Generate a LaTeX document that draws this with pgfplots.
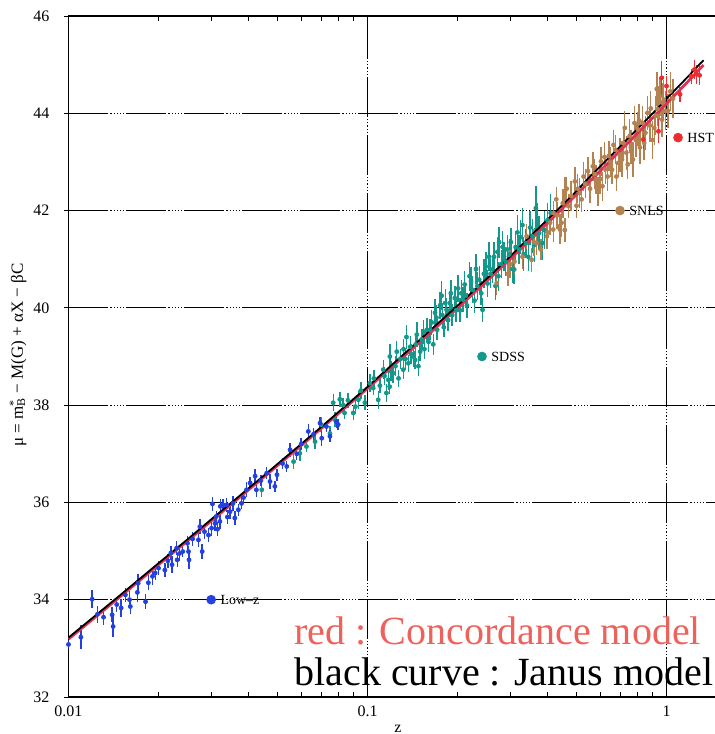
\documentclass[border=0pt]{standalone}
\usepackage{fontspec}
\setmainfont{Liberation Serif}
\usepackage{pgfplots}
\pgfplotsset{compat=1.18}
\definecolor{lowz}{RGB}{35,65,225}
\definecolor{sdss}{RGB}{20,152,140}
\definecolor{snls}{RGB}{180,130,80}
\definecolor{hst}{RGB}{235,45,45}
\definecolor{curvered}{RGB}{225,50,85}
\definecolor{textred}{RGB}{238,98,92}
\begin{document}
\begin{tikzpicture}[x=1pt,y=1pt]
\begin{axis}[
  at={(0,0)}, anchor=south west,
  scale only axis, width=326pt, height=340.5pt,
  xmode=log, xmin=0.01, xmax=1.5154, ymin=32, ymax=46,
  axis x line=box, axis y line=left,
  axis line style={-, black, line width=0.6pt},
  xtick={0.01,0.1,1}, xticklabels={0.01,0.1,1},
  ytick={32,34,36,38,40,42,44,46},
  grid=major,
  major grid style={black, line width=0.5pt, dash pattern=on 20pt off 1pt on 0.6pt off 1pt on 0.6pt off 1pt on 0.6pt off 1pt on 0.6pt off 1pt on 0.6pt off 1pt},
  tick style={black, line width=0.4pt},
  major tick length=4pt, minor tick length=2.5pt,
  ticklabel style={font=\fontsize{8}{9}\selectfont},
  yticklabel style={xshift=-4pt},
  xticklabel style={yshift=-1pt},
  /pgf/number format/assume math mode=true,
]
% SDSS
\addplot[only marks, mark=*, mark size=1pt, color=sdss,
  error bars/.cd, y dir=both, y explicit, error mark=none,
  error bar style={line width=0.7pt, color=sdss}]
  table[x index=0, y index=1, y error index=2] {
0.0443 36.26 0.15
0.0566 36.84 0.15
0.0594 37.01 0.15
0.0625 37.15 0.12
0.0668 37.25 0.15
0.0700 37.60 0.15
0.0749 37.42 0.15
0.0768 38.05 0.18
0.0779 37.70 0.15
0.0808 38.12 0.15
0.0829 38.00 0.15
0.0838 37.84 0.12
0.0860 38.10 0.15
0.0896 37.84 0.15
0.0911 37.97 0.15
0.0932 38.11 0.18
0.0950 38.30 0.18
0.0980 38.05 0.15
0.1018 38.45 0.18
0.1045 38.35 0.15
0.1050 38.55 0.18
0.1086 38.11 0.18
0.1100 38.40 0.15
0.1129 38.73 0.20
0.1140 38.60 0.18
0.1157 38.25 0.18
0.1174 38.52 0.20
0.1186 38.38 0.15
0.1188 39.00 0.25
0.1200 38.70 0.20
0.1216 38.66 0.20
0.1240 38.80 0.20
0.1253 39.10 0.22
0.1270 38.55 0.18
0.1290 38.95 0.20
0.1317 38.73 0.20
0.1320 39.15 0.22
0.1340 38.95 0.22
0.1350 39.40 0.25
0.1370 38.86 0.18
0.1390 39.20 0.22
0.1400 39.05 0.20
0.1424 39.00 0.22
0.1443 38.93 0.18
0.1450 39.25 0.22
0.1462 39.45 0.25
0.1480 38.80 0.20
0.1500 39.10 0.20
0.1520 39.35 0.22
0.1540 39.50 0.25
0.1550 39.15 0.20
0.1579 39.55 0.25
0.1600 39.30 0.20
0.1620 39.55 0.22
0.1640 39.70 0.25
0.1660 39.25 0.22
0.1682 39.90 0.28
0.1700 39.80 0.25
0.1710 39.55 0.22
0.1747 40.05 0.28
0.1770 40.25 0.30
0.1780 39.85 0.25
0.1800 39.60 0.20
0.1820 40.10 0.28
0.1839 39.96 0.25
0.1860 39.75 0.22
0.1886 40.10 0.25
0.1900 40.30 0.28
0.1920 39.85 0.22
0.1959 40.20 0.25
0.1980 39.95 0.25
0.2009 40.40 0.28
0.2040 39.95 0.25
0.2060 40.30 0.28
0.2087 40.17 0.25
0.2113 40.48 0.28
0.2130 40.25 0.25
0.2150 40.05 0.25
0.2194 40.65 0.30
0.2220 40.55 0.28
0.2249 40.37 0.28
0.2280 40.15 0.25
0.2306 40.80 0.30
0.2330 40.45 0.28
0.2364 40.58 0.28
0.2400 40.30 0.25
0.2425 39.96 0.25
0.2450 40.70 0.30
0.2487 40.85 0.30
0.2520 40.50 0.28
0.2551 41.05 0.30
0.2580 40.70 0.30
0.2616 40.79 0.28
0.2650 41.05 0.30
0.2680 40.45 0.28
0.2719 41.15 0.30
0.2740 40.65 0.30
0.2755 41.35 0.32
0.2800 40.90 0.28
0.2830 41.25 0.32
0.2864 41.06 0.30
0.2900 40.95 0.30
0.2938 41.20 0.30
0.2980 41.10 0.32
0.3015 41.35 0.30
0.3050 40.80 0.28
0.3094 40.79 0.30
0.3130 41.25 0.32
0.3174 41.55 0.35
0.3214 41.20 0.30
0.3250 41.45 0.35
0.3297 41.70 0.35
0.3330 41.10 0.35
0.3384 41.33 0.30
0.3450 41.05 0.30
0.3500 41.65 0.35
0.3565 41.47 0.35
0.3620 41.30 0.35
0.3657 42.05 0.45
0.3700 41.75 0.40
0.3750 41.54 0.35
0.3850 41.33 0.35
0.3900 41.60 0.40
0.4000 41.80 0.35
0.4100 41.95 0.40
};
% SNLS
\addplot[only marks, mark=*, mark size=1pt, color=snls,
  error bars/.cd, y dir=both, y explicit, error mark=none,
  error bar style={line width=0.7pt, color=snls}]
  table[x index=0, y index=1, y error index=2] {
0.2704 40.51 0.25
0.2950 40.70 0.25
0.3000 40.90 0.28
0.3100 40.95 0.25
0.3300 41.05 0.25
0.3406 41.47 0.25
0.3540 40.99 0.25
0.3600 41.35 0.28
0.3680 41.33 0.25
0.3800 41.20 0.22
0.3980 41.47 0.25
0.4000 41.55 0.28
0.4080 41.75 0.25
0.4180 41.61 0.25
0.4190 41.95 0.25
0.4280 42.23 0.25
0.4300 41.90 0.28
0.4400 41.68 0.25
0.4403 41.61 0.30
0.4457 41.75 0.30
0.4500 42.15 0.30
0.4570 41.60 0.25
0.4575 42.40 0.30
0.4636 42.45 0.25
0.4700 42.09 0.25
0.4800 42.30 0.30
0.4935 42.60 0.30
0.5000 42.10 0.25
0.5050 42.45 0.30
0.5127 42.36 0.30
0.5200 42.23 0.25
0.5280 42.70 0.30
0.5350 42.55 0.30
0.5465 42.81 0.30
0.5550 42.45 0.30
0.5670 42.91 0.30
0.5750 42.75 0.30
0.5810 42.64 0.30
0.5900 42.40 0.30
0.6000 42.65 0.30
0.6035 43.01 0.30
0.6105 42.50 0.30
0.6200 43.10 0.30
0.6250 42.85 0.30
0.6350 42.70 0.30
0.6415 43.12 0.30
0.6500 43.00 0.30
0.6575 42.84 0.30
0.6650 43.35 0.30
0.6740 43.25 0.30
0.6800 42.70 0.30
0.6900 42.98 0.30
0.7000 43.15 0.35
0.7100 43.05 0.35
0.7165 43.39 0.35
0.7253 43.70 0.35
0.7340 43.19 0.35
0.7420 42.95 0.30
0.7530 43.53 0.35
0.7600 43.30 0.35
0.7725 43.05 0.35
0.7820 43.80 0.35
0.7900 43.45 0.35
0.8020 43.67 0.35
0.8100 43.85 0.35
0.8150 43.30 0.35
0.8320 43.80 0.35
0.8420 43.39 0.35
0.8500 43.60 0.35
0.8640 44.01 0.35
0.8800 43.75 0.35
0.8860 44.10 0.35
0.8970 43.45 0.40
0.9100 43.70 0.35
0.9200 43.95 0.40
0.9280 44.50 0.35
0.9310 44.09 0.35
0.9430 44.22 0.35
0.9500 44.35 0.40
0.9660 43.87 0.35
0.9700 44.22 0.40
0.9790 44.28 0.40
0.9900 44.05 0.40
1.0100 44.05 0.35
1.0300 44.45 0.40
1.0500 44.30 0.40
};
% Low-z
\addplot[only marks, mark=*, mark size=1pt, color=lowz,
  error bars/.cd, y dir=both, y explicit, error mark=none,
  error bar style={line width=0.7pt, color=lowz}]
  table[x index=0, y index=1, y error index=2] {
0.0100 33.08 0.10
0.0110 33.23 0.25
0.0120 34.01 0.18
0.0125 33.70 0.18
0.0131 33.64 0.15
0.0140 33.69 0.15
0.0141 33.45 0.22
0.0145 33.90 0.15
0.0150 33.83 0.18
0.0155 34.10 0.15
0.0160 34.00 0.18
0.0161 33.86 0.15
0.0170 34.15 0.20
0.0171 34.34 0.18
0.0181 33.96 0.15
0.0185 34.35 0.15
0.0191 34.48 0.18
0.0195 34.55 0.15
0.0200 34.65 0.15
0.0210 34.61 0.15
0.0215 34.80 0.15
0.0220 34.96 0.15
0.0222 34.72 0.18
0.0230 35.06 0.15
0.0231 34.82 0.15
0.0235 34.95 0.15
0.0241 34.99 0.12
0.0250 35.16 0.15
0.0252 34.99 0.12
0.0253 34.82 0.18
0.0260 35.25 0.15
0.0272 35.23 0.15
0.0275 35.50 0.15
0.0280 34.99 0.15
0.0285 35.40 0.15
0.0294 35.33 0.15
0.0301 35.47 0.15
0.0303 35.97 0.15
0.0309 35.57 0.15
0.0312 35.71 0.12
0.0315 35.45 0.15
0.0321 35.61 0.15
0.0322 35.92 0.15
0.0329 35.95 0.12
0.0338 35.95 0.15
0.0340 35.70 0.15
0.0347 35.81 0.15
0.0355 35.98 0.15
0.0360 35.68 0.15
0.0370 35.85 0.12
0.0379 35.98 0.12
0.0385 36.10 0.12
0.0394 36.26 0.15
0.0405 36.40 0.12
0.0421 36.54 0.15
0.0425 36.26 0.15
0.0440 36.45 0.12
0.0460 36.60 0.12
0.0472 36.43 0.15
0.0490 36.33 0.12
0.0498 36.57 0.12
0.0520 36.80 0.12
0.0537 36.74 0.12
0.0551 37.08 0.15
0.0580 37.00 0.12
0.0600 37.20 0.12
0.0634 37.46 0.15
0.0660 37.40 0.12
0.0694 37.63 0.12
0.0703 37.32 0.15
0.0729 37.56 0.12
0.0749 37.36 0.12
0.0788 37.66 0.12
0.0798 37.60 0.12
};
% HST
\addplot[only marks, mark=*, mark size=1pt, color=hst,
  error bars/.cd, y dir=both, y explicit, error mark=none,
  error bar style={line width=0.7pt, color=hst}]
  table[x index=0, y index=1, y error index=2] {
0.836 43.46 0.20
0.940 43.63 0.25
0.964 44.73 0.35
1.000 44.56 0.20
1.110 44.39 0.15
1.210 44.76 0.15
1.240 44.90 0.20
1.260 44.80 0.20
1.290 44.78 0.20
};
% Concordance model (red)
\addplot[no marks, color=curvered, line width=1.4pt] table {
0.01 33.19
0.012 33.59
0.015 34.08
0.02 34.72
0.025 35.21
0.03 35.62
0.035 35.96
0.04 36.26
0.045 36.52
0.05 36.76
0.06 37.17
0.07 37.52
0.08 37.83
0.1 38.345
0.15 39.30
0.2 39.995
0.25 40.545
0.3 41.005
0.35 41.40
0.4 41.745
0.45 42.05
0.5 42.33
0.55 42.585
0.6 42.815
0.65 43.03
0.7 43.23
0.75 43.415
0.8 43.59
0.85 43.755
0.9 43.91
0.95 44.055
1.0 44.20
1.1 44.46
1.2 44.70
1.3 44.93
1.33 44.99
};
% Janus model (black)
\addplot[no marks, black, line width=0.9pt] table {
0.01 33.22
0.012 33.62
0.015 34.11
0.02 34.75
0.025 35.24
0.03 35.65
0.035 35.99
0.04 36.29
0.045 36.55
0.05 36.79
0.06 37.20
0.07 37.55
0.08 37.86
0.1 38.375
0.15 39.35
0.2 40.045
0.25 40.595
0.3 41.055
0.35 41.47
0.4 41.815
0.45 42.12
0.5 42.40
0.55 42.675
0.6 42.905
0.65 43.12
0.7 43.32
0.75 43.505
0.8 43.68
0.85 43.845
0.9 44.00
0.95 44.155
1.0 44.30
1.1 44.56
1.2 44.80
1.3 45.03
1.33 45.09
};
% legend markers
\addplot[only marks, mark=*, mark size=2.2pt, color=lowz] coordinates {(0.03,34)};
\addplot[only marks, mark=*, mark size=2.2pt, color=sdss] coordinates {(0.2415,39)};
\addplot[only marks, mark=*, mark size=2.2pt, color=snls] coordinates {(0.699,42)};
\addplot[only marks, mark=*, mark size=2.2pt, color=hst] coordinates {(1.093,43.5)};
\node[anchor=west, font=\fontsize{7}{8}\selectfont, inner sep=0pt, xshift=4.5pt] at (axis cs:0.03,34) {Low--z};
\node[anchor=west, font=\fontsize{7}{8}\selectfont, inner sep=0pt, xshift=4.5pt] at (axis cs:0.2415,39) {SDSS};
\node[anchor=west, font=\fontsize{7}{8}\selectfont, inner sep=0pt, xshift=4.5pt] at (axis cs:0.699,42) {SNLS};
\node[anchor=west, font=\fontsize{7}{8}\selectfont, inner sep=0pt, xshift=4.5pt] at (axis cs:1.093,43.5) {HST};
\end{axis}
\node[anchor=base west, font=\fontsize{20}{24}\selectfont, color=textred, inner sep=0pt] at (112.75,26.5) {red : Concordance model};
\node[anchor=base west, font=\fontsize{20}{24}\selectfont, inner sep=0pt] at (112.75,5.5) {black curve : Janus model};
\node[rotate=90, font=\fontsize{8.5}{10}\selectfont, inner sep=0pt] at (-25.25,171) {μ = m\rlap{\textsuperscript{*}}\textsubscript{B} − M(G) + αX − βC};
\node[anchor=south, font=\fontsize{8}{9}\selectfont, inner sep=0pt] at (164.75,-17.8) {z};
\pgfresetboundingbox
\path[use as bounding box] (-34.25,-18.5) rectangle (323.25,348.5);
\end{tikzpicture}
\end{document}
